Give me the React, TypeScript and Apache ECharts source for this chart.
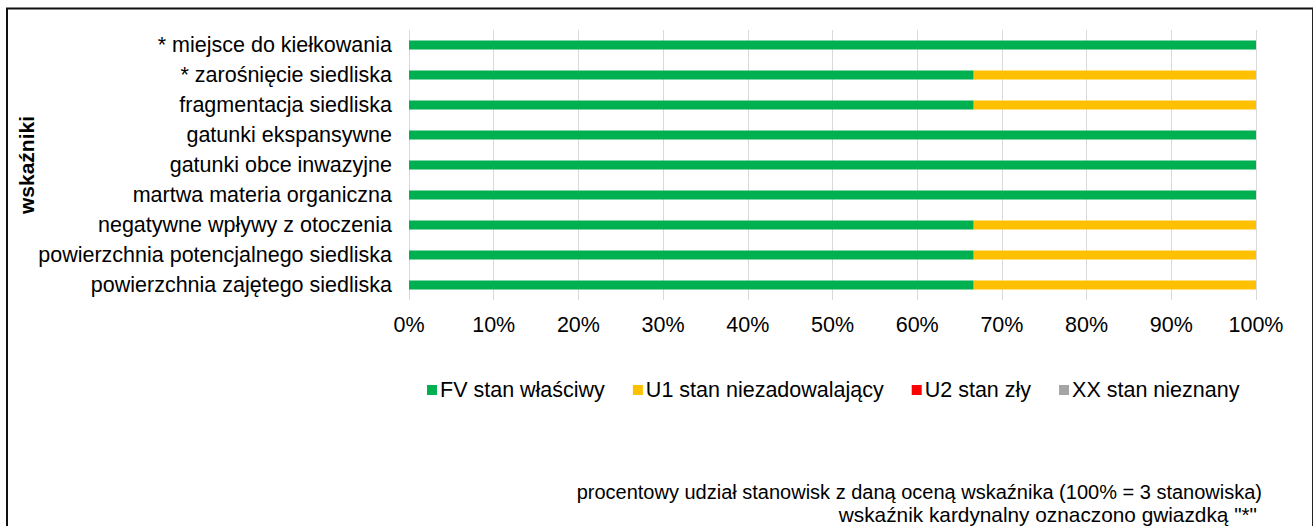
import React, { useEffect, useRef } from "react";
import * as echarts from "echarts";

const categories = [
  "* miejsce do kiełkowania",
  "* zarośnięcie siedliska",
  "fragmentacja siedliska",
  "gatunki ekspansywne",
  "gatunki obce inwazyjne",
  "martwa materia organiczna",
  "negatywne wpływy z otoczenia",
  "powierzchnia potencjalnego siedliska",
  "powierzchnia zajętego siedliska",
];

const seriesNames = ["FV stan właściwy", "U1 stan niezadowalający", "U2 stan zły", "XX stan nieznany"];
const fvValues = [100, 66.67, 66.67, 100, 100, 100, 66.67, 66.67, 66.67];
const u1Values = [0, 33.33, 33.33, 0, 0, 0, 33.33, 33.33, 33.33];
const u2Values = [0, 0, 0, 0, 0, 0, 0, 0, 0];
const xxValues = [0, 0, 0, 0, 0, 0, 0, 0, 0];
const seriesColors = ["#00B050", "#FFC000", "#FF0000", "#A5A5A5"];

const axisTitle = "wskaźniki";
const footnote1 = "procentowy udział stanowisk z daną oceną wskaźnika (100% = 3 stanowiska)";
const footnote2 = "wskaźnik kardynalny oznaczono gwiazdką \"*\"";

const FONT = "'Liberation Sans', Arial, sans-serif";
const FS = 21.5;

export default function App() {
  const ref = useRef<HTMLDivElement>(null);

  useEffect(() => {
    if (!ref.current) return;
    const chart = echarts.init(ref.current, null, { renderer: "svg" });
    const values = [fvValues, u1Values, u2Values, xxValues];
    chart.setOption({
      animation: false,
      backgroundColor: "#ffffff",
      textStyle: { fontFamily: FONT },
      grid: { left: 409, right: 58, top: 30, bottom: 226, containLabel: false },
      legend: {
        left: 422,
        top: 374,
        icon: "rect",
        itemWidth: 10,
        itemHeight: 10,
        itemGap: 28,
        textStyle: { fontSize: FS, color: "#000", fontFamily: FONT, padding: [0, 0, 0, -2] },
        data: seriesNames,
      },
      xAxis: {
        type: "value",
        min: 0,
        max: 100,
        interval: 10,
        axisLine: { show: false },
        axisTick: { show: false },
        splitLine: { show: true, lineStyle: { color: "#D9D9D9", width: 1 } },
        axisLabel: { formatter: "{value}%", fontSize: FS, color: "#000", margin: 14, fontFamily: FONT },
      },
      yAxis: {
        type: "category",
        inverse: true,
        data: categories,
        axisLine: { show: false },
        axisTick: { show: false },
        axisLabel: { fontSize: FS, color: "#000", margin: 17, fontFamily: FONT },
      },
      series: seriesNames.map((name, i) => ({
        name,
        type: "bar",
        stack: "total",
        barWidth: 9,
        itemStyle: { color: seriesColors[i] },
        data: values[i],
      })),
      graphic: [
        {
          type: "text",
          x: 26,
          y: 165,
          rotation: Math.PI / 2,
          style: {
            text: axisTitle,
            fontSize: 21,
            fontWeight: "bold",
            fill: "#000",
            fontFamily: FONT,
            textAlign: "center",
            textVerticalAlign: "middle",
          },
        },
        {
          type: "text",
          x: 1262,
          y: 492,
          style: {
            text: footnote1,
            fontSize: 20,
            fill: "#000",
            fontFamily: FONT,
            textAlign: "right",
            textVerticalAlign: "middle",
          },
        },
        {
          type: "text",
          x: 1257,
          y: 514,
          style: {
            text: footnote2,
            fontSize: 20.8,
            fill: "#000",
            fontFamily: FONT,
            textAlign: "right",
            textVerticalAlign: "middle",
          },
        },
        { type: "line", shape: { x1: 7, y1: 8, x2: 7, y2: 540 }, style: { stroke: "#111", lineWidth: 2 } },
        { type: "line", shape: { x1: 6, y1: 8.5, x2: 1313, y2: 8.5 }, style: { stroke: "#111", lineWidth: 2 } },
        { type: "line", shape: { x1: 1312.5, y1: 8, x2: 1312.5, y2: 540 }, style: { stroke: "#222", lineWidth: 1 } },
      ],
    });
    return () => chart.dispose();
  }, []);

  return (
    <div
      ref={ref}
      style={{ position: "fixed", left: 0, top: 0, width: 1314, height: 526 }}
    />
  );
}
